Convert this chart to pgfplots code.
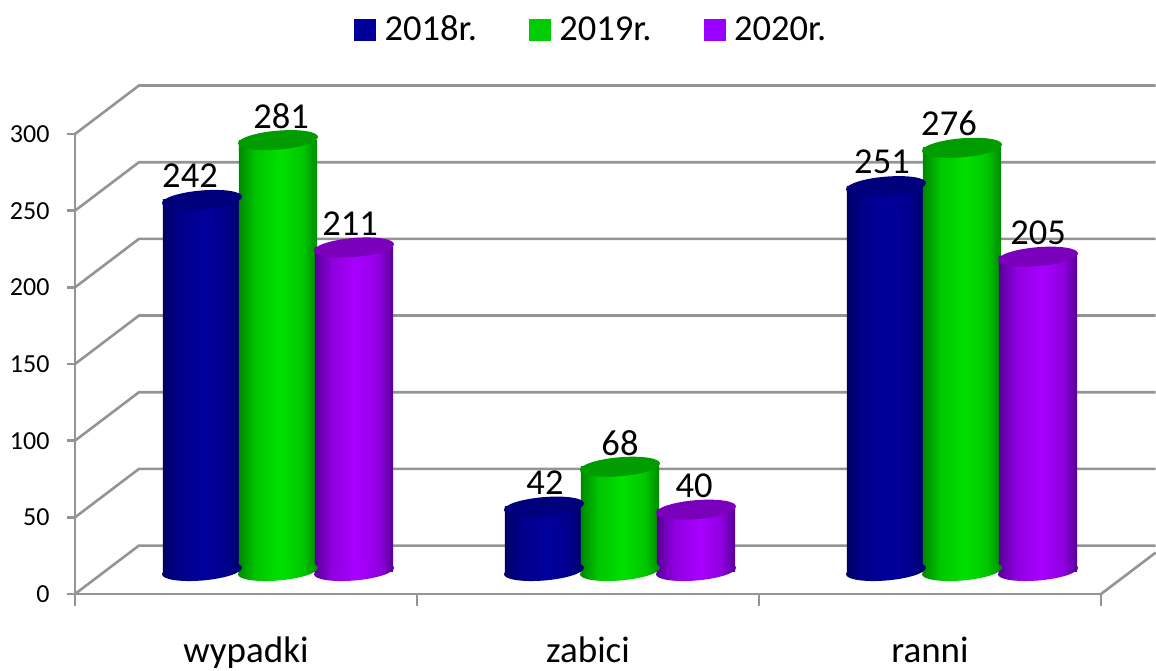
\documentclass[border=0pt]{standalone}
\usepackage{fontspec}
\setmainfont{Carlito}
\usepackage{pgfplots}
\usepackage{pgfplotstable}
\pgfplotsset{compat=1.18}

\definecolor{wallgray}{HTML}{949494}
\definecolor{legblue}{HTML}{000099}
\definecolor{leggreen}{HTML}{00CC00}
\definecolor{legpurple}{HTML}{9900FF}

\definecolor{bE}{HTML}{000066}\definecolor{bM}{HTML}{00009C}\definecolor{bC}{HTML}{00007C}
\definecolor{gE}{HTML}{008800}\definecolor{gM}{HTML}{00E000}\definecolor{gC}{HTML}{009C00}
\definecolor{pE}{HTML}{560096}\definecolor{pM}{HTML}{A800FF}\definecolor{pC}{HTML}{7A00BC}
\colorlet{bS}{bM!70!bE}\colorlet{gS}{gM!70!gE}\colorlet{pS}{pM!70!pE}

\pgfdeclarehorizontalshading{cylb}{100bp}{color(0bp)=(bE); color(25bp)=(bE); color(36bp)=(bS); color(52bp)=(bM); color(66bp)=(bS); color(75bp)=(bE); color(100bp)=(bE)}
\pgfdeclarehorizontalshading{cylg}{100bp}{color(0bp)=(gE); color(25bp)=(gE); color(36bp)=(gS); color(52bp)=(gM); color(66bp)=(gS); color(75bp)=(gE); color(100bp)=(gE)}
\pgfdeclarehorizontalshading{cylp}{100bp}{color(0bp)=(pE); color(25bp)=(pE); color(36bp)=(pS); color(52bp)=(pM); color(66bp)=(pS); color(75bp)=(pE); color(100bp)=(pE)}

% tilted ellipses for the cylinder ends
\newcommand\capellipse{\pgfpathellipse{\pgfpointorigin}{\pgfpoint{40pt}{3.2pt}}{\pgfpoint{0pt}{9.5pt}}}
\pgfdeclareplotmark{capb}{\capellipse\pgfsetfillcolor{bC}\pgfusepathqfill}
\pgfdeclareplotmark{capg}{\capellipse\pgfsetfillcolor{gC}\pgfusepathqfill}
\pgfdeclareplotmark{capp}{\capellipse\pgfsetfillcolor{pC}\pgfusepathqfill}
\pgfdeclareplotmark{baseb}{\capellipse\pgfshadepath{cylb}{0}\pgfusepath{discard}}
\pgfdeclareplotmark{baseg}{\capellipse\pgfshadepath{cylg}{0}\pgfusepath{discard}}
\pgfdeclareplotmark{basep}{\capellipse\pgfshadepath{cylp}{0}\pgfusepath{discard}}

% x, value, label offset
\pgfplotstableread{
x y dx
0 242 -12
1 42 1
2 251 -4
}\dataA
\pgfplotstableread{
x y dx
0 281 3
1 68 0
2 276 -13
}\dataB
\pgfplotstableread{
x y dx
0 211 -4
1 40 -2
2 205 0
}\dataC

\begin{document}
\begin{tikzpicture}
\path[use as bounding box] (-75pt,-76pt) rectangle (1081pt,594pt);
\begin{axis}[
    scale only axis,
    width=1026pt,
    height=460pt,
    clip=false,
    xmin=-0.5, xmax=2.5,
    ymin=0, ymax=300,
    axis x line*=bottom,
    axis y line*=left,
    axis line style={wallgray,line width=2.6pt,-},
    tick style={wallgray,line width=2.6pt},
    tick align=outside,
    major tick length=8pt,
    minor tick length=12pt,
    ytick={0,50,...,300},
    xtick={0,1,2},
    xticklabels={wypadki,zabici,ranni},
    minor xtick={-0.5,0.5,1.5,2.5},
    major x tick style={draw=none},
    tick label style={font=\fontsize{26}{30}\selectfont},
    xticklabel style={font=\fontsize{37}{42}\selectfont,inner sep=0pt,yshift=-35pt},
    yticklabel style={xshift=-14pt},
    /pgf/number format/assume math mode=true,
    legend columns=3,
    legend style={
        at={(axis description cs:0.272,1.2613)},anchor=north west,
        draw=none,fill=none,inner sep=0pt,
        font=\fontsize{36.5}{42}\selectfont,
        /tikz/every even column/.append style={column sep=50pt},
    },
    wall/.style={wallgray,line width=2.6pt,forget plot},
    vals/.style={
        only marks,forget plot,
        xshift=#1,yshift=23pt,
        nodes near coords,
        visualization depends on={\thisrow{dx} \as \dx},
        every node near coord/.append style={
            font=\fontsize{36.5}{42}\selectfont,text=black,anchor=center,
            xshift=\dx pt,yshift=24pt},
    },
    bases/.style={only marks,forget plot,xshift=#1,yshift=23pt},
    cyl/.style={ybar,bar width=78.4pt,bar shift=#1,yshift=23pt,draw=none,shade,forget plot},
]
% side walls and back wall
\addplot[wall] coordinates {(-0.5,0) (-0.313,31.6) (2.66,31.6)};
\addplot[wall] coordinates {(-0.5,50) (-0.313,81.6) (2.66,81.6)};
\addplot[wall] coordinates {(-0.5,100) (-0.313,131.6) (2.66,131.6)};
\addplot[wall] coordinates {(-0.5,150) (-0.313,181.6) (2.66,181.6)};
\addplot[wall] coordinates {(-0.5,200) (-0.313,231.6) (2.66,231.6)};
\addplot[wall] coordinates {(-0.5,250) (-0.313,281.6) (2.66,281.6)};
\addplot[wall] coordinates {(-0.5,300) (-0.313,331.6) (2.66,331.6)};
\addplot[wall] coordinates {(2.5,0) (2.66,27)};

% 2018
\addplot[bases=-44pt,mark=baseb] coordinates {(0,0) (1,0) (2,0)};
\pgfplotsinvokeforeach{0,1,2}{
  \addplot[cyl=-44pt,shading=cylb,restrict x to domain=#1:#1] table[x=x,y=y] {\dataA};
}
\addplot[vals=-44pt,mark=capb] table[x=x,y=y] {\dataA};

% 2019
\addplot[bases=32pt,mark=baseg] coordinates {(0,0) (1,0) (2,0)};
\pgfplotsinvokeforeach{0,1,2}{
  \addplot[cyl=32pt,shading=cylg,restrict x to domain=#1:#1] table[x=x,y=y] {\dataB};
}
\addplot[vals=32pt,mark=capg] table[x=x,y=y] {\dataB};

% 2020
\addplot[bases=108pt,mark=basep] coordinates {(0,0) (1,0) (2,0)};
\pgfplotsinvokeforeach{0,1,2}{
  \addplot[cyl=108pt,shading=cylp,restrict x to domain=#1:#1] table[x=x,y=y] {\dataC};
}
\addplot[vals=108pt,mark=capp] table[x=x,y=y] {\dataC};

\addlegendimage{legend image code/.code={\fill[legblue] (0pt,-10.5pt) rectangle (21pt,10.5pt);\path (28pt,0pt);}}
\addlegendentry{2018r.}
\addlegendimage{legend image code/.code={\fill[leggreen] (0pt,-10.5pt) rectangle (21pt,10.5pt);\path (28pt,0pt);}}
\addlegendentry{2019r.}
\addlegendimage{legend image code/.code={\fill[legpurple] (0pt,-10.5pt) rectangle (21pt,10.5pt);\path (28pt,0pt);}}
\addlegendentry{2020r.}
\end{axis}
\end{tikzpicture}
\end{document}
